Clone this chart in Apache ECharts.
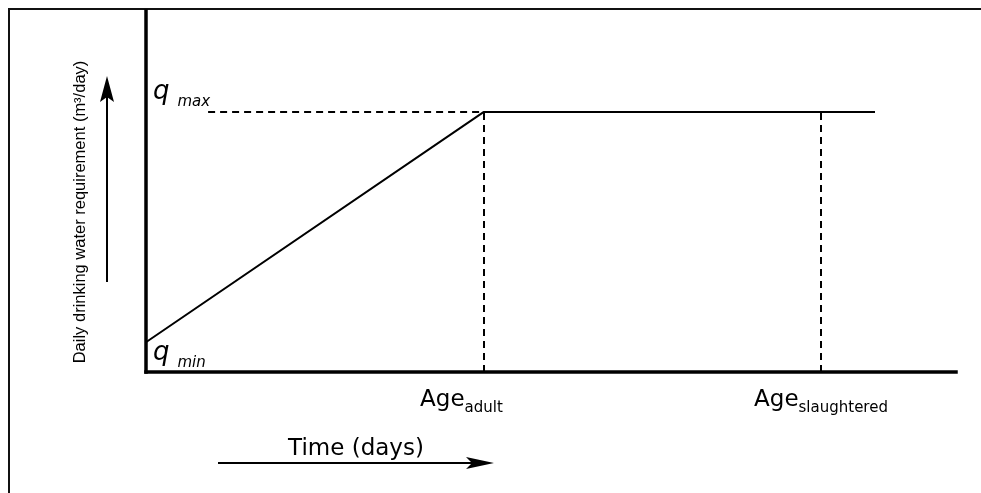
<!DOCTYPE html>
<html>
<head>
<meta charset="utf-8">
<script src="https://cdn.jsdelivr.net/npm/echarts@6/dist/echarts.min.js"></script>
<style>
  html, body { margin: 0; padding: 0; background: #fff; }
  #chart { width: 981px; height: 493px; }
</style>
</head>
<body>
<div id="chart"></div>
<script>
// days / m3 per day, arbitrary units
const ageAdult = 125;
const ageSlaughtered = 250;
const ageEnd = 270;
const qMin = 0.75;
const qMax = 7.2;
const growthLine = [[-1.5, qMin], [ageAdult, qMax], [ageEnd, qMax]];
const qMaxGuideStart = 23;

const FONT = "DejaVu Sans";

const chart = echarts.init(document.getElementById("chart"));

chart.setOption({
  backgroundColor: "#ffffff",
  animation: false,
  grid: { left: 146, right: 25, top: 11, bottom: 121 },
  xAxis: {
    type: "value",
    min: 0,
    max: 300,
    axisLine: { lineStyle: { color: "#000", width: 3.5, cap: "square" } },
    axisTick: { show: false },
    axisLabel: { show: false },
    splitLine: { show: false }
  },
  yAxis: {
    type: "value",
    min: 0,
    max: 10,
    axisLine: { show: true, lineStyle: { color: "#000", width: 3.5, cap: "square" } },
    axisTick: { show: false },
    axisLabel: { show: false },
    splitLine: { show: false }
  },
  graphic: [
    // outer frame
    {
      type: "rect",
      shape: { x: 9, y: 9, width: 1000, height: 500 },
      style: { fill: "none", stroke: "#111", lineWidth: 2 }
    },
    // y title
    {
      type: "text",
      x: 80,
      y: 212,
      rotation: Math.PI / 2,
      style: {
        text: "Daily drinking water requirement (m³/day)",
        fontSize: 16.5,
        fontFamily: "Liberation Sans",
        fill: "#000",
        align: "center",
        verticalAlign: "middle"
      }
    },
    // y arrow
    { type: "line", shape: { x1: 107, y1: 282, x2: 107, y2: 95 }, style: { stroke: "#000", lineWidth: 2 } },
    { type: "polygon", shape: { points: [[107, 76], [100, 102], [107, 97], [114, 102]] }, style: { fill: "#000" } },
    // x title
    {
      type: "text",
      x: 356,
      y: 449,
      style: {
        text: "Time (days)",
        fontSize: 23,
        fontFamily: FONT,
        fill: "#000",
        align: "center",
        verticalAlign: "middle"
      }
    },
    // x arrow
    { type: "line", shape: { x1: 218, y1: 463, x2: 478, y2: 463 }, style: { stroke: "#000", lineWidth: 2 } },
    { type: "polygon", shape: { points: [[494, 463], [466, 457], [472, 463], [466, 469]] }, style: { fill: "#000" } }
  ],
  series: [
    {
      name: "requirement",
      type: "line",
      data: growthLine,
      clip: false,
      symbol: "none",
      lineStyle: { color: "#000", width: 2 },
      markLine: {
        silent: true,
        symbol: "none",
        label: { show: false },
        lineStyle: { color: "#000", width: 2, type: [7, 5] },
        data: [
          [{ coord: [qMaxGuideStart, qMax] }, { coord: [ageAdult, qMax] }],
          [{ coord: [ageAdult, 0] }, { coord: [ageAdult, qMax] }],
          [{ coord: [ageSlaughtered, 0] }, { coord: [ageSlaughtered, qMax] }]
        ]
      }
    },
    {
      name: "labels",
      type: "scatter",
      symbolSize: 0,
      silent: true,
      itemStyle: { opacity: 1 },
      data: [
        {
          value: [0, qMax],
          label: { show: true, position: "right", offset: [2, -20], formatter: "{q|q}{m|max}" }
        },
        {
          value: [0, qMin],
          label: { show: true, position: "right", offset: [2, 8], formatter: "{q|q}{m|min}" }
        },
        {
          value: [ageAdult, 0],
          label: { show: true, position: "bottom", distance: 17, offset: [-22, 0], formatter: "{a|Age}{s|adult}" }
        },
        {
          value: [ageSlaughtered, 0],
          label: { show: true, position: "bottom", distance: 17, offset: [0, 0], formatter: "{a|Age}{s|slaughtered}" }
        }
      ],
      label: {
        color: "#000",
        opacity: 1,
        fontFamily: FONT,
        rich: {
          q: { fontSize: 26, fontStyle: "italic", fontFamily: FONT, color: "#000", verticalAlign: "bottom" },
          m: { fontSize: 15, fontStyle: "italic", fontFamily: FONT, color: "#000", verticalAlign: "bottom", padding: [0, 0, -5, 8] },
          s: { fontSize: 15, fontFamily: FONT, color: "#000", verticalAlign: "bottom", padding: [0, 0, -4, 0] },
          a: { fontSize: 23, fontFamily: FONT, color: "#000", verticalAlign: "bottom" }
        }
      }
    }
  ]
});
</script>
</body>
</html>
